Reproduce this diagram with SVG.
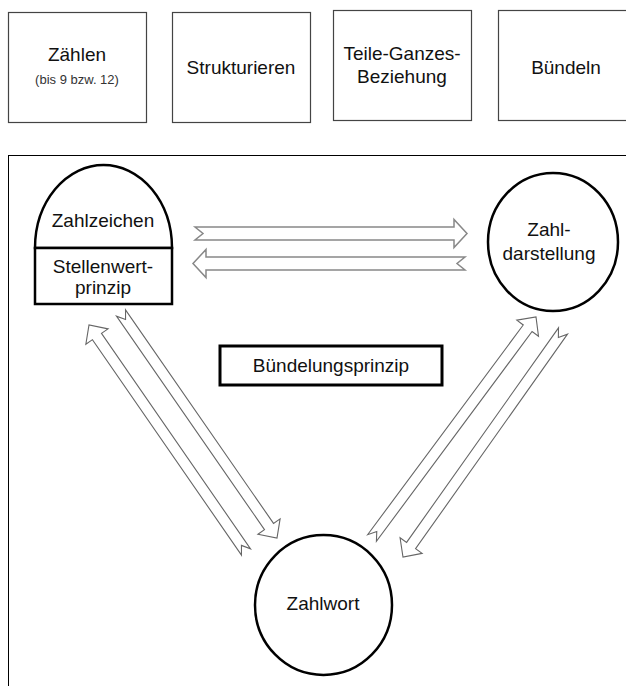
<svg xmlns="http://www.w3.org/2000/svg" width="626" height="686" viewBox="0 0 626 686">
<style>
text{font-family:"Liberation Sans",Arial,sans-serif;fill:#111;text-anchor:middle}
.t{font-size:19px}
.s{font-size:13px;fill:#333}
.box{fill:#fff;stroke:#444;stroke-width:1.2}
.node{fill:#fff;stroke:#000;stroke-width:2.5}
.arr{fill:#fff;stroke:#666;stroke-width:1.1;stroke-linejoin:miter}
.harr{fill:#fff;stroke:#888;stroke-width:1.5}
</style>
<rect width="626" height="686" fill="#fff"/>
<g id="frame"><rect x="8.5" y="155.5" width="640" height="560" fill="none" stroke="#000" stroke-width="1"/></g>
<g id="zaehlen"><rect class="box" x="8.5" y="12.5" width="138" height="110"/><text class="t" x="77" y="61">Zählen</text><text class="s" x="77" y="84">(bis 9 bzw. 12)</text></g>
<g id="strukturieren"><rect class="box" x="172.5" y="12.5" width="138" height="110"/><text class="t" x="241" y="74">Strukturieren</text></g>
<g id="teile"><rect class="box" x="333.5" y="10.5" width="138" height="110"/><text class="t" x="402" y="60">Teile-Ganzes-</text><text class="t" x="402" y="83">Beziehung</text></g>
<g id="buendeln"><rect class="box" x="498.5" y="10.5" width="138" height="110"/><text class="t" x="566" y="74">Bündeln</text></g>
<g id="connectors">
<polygon class="harr" transform="translate(195,233.5)" points="0,-6.5 259,-6.5 259,-14 272,0 259,14 259,6.5 0,6.5 8,0"/>
<polygon class="harr" transform="translate(465,263.5) rotate(180)" points="0,-6.5 259,-6.5 259,-14 272,0 259,14 259,6.5 0,6.5 8,0"/>
<polygon class="arr" transform="translate(121,313) rotate(55.27)" points="0,-5.5 259.8,-5.5 259.8,-13.5 273.8,0 259.8,13.5 259.8,5.5 0,5.5 8,0"/>
<polygon class="arr" transform="translate(246,552) rotate(235.33)" points="0,-5.5 262,-5.5 262,-13.5 276,0 262,13.5 262,5.5 0,5.5 8,0"/>
<polygon class="arr" transform="translate(372,538) rotate(-53.42)" points="0,-5.5 261.2,-5.5 261.2,-13.5 275.2,0 261.2,13.5 261.2,5.5 0,5.5 8,0"/>
<polygon class="arr" transform="translate(563,331) rotate(125.3)" points="0,-5.5 262.9,-5.5 262.9,-13.5 276.9,0 262.9,13.5 262.9,5.5 0,5.5 8,0"/>
</g>
<g id="zahlzeichen">
<path class="node" d="M35,248 A68.5,83 0 0 1 172,248 Z"/>
<rect class="node" x="35" y="248" width="137" height="56"/>
<text class="t" x="103" y="227">Zahlzeichen</text>
<text class="t" x="103" y="273">Stellenwert-</text>
<text class="t" x="103" y="294">prinzip</text>
</g>
<g id="zahldarstellung"><ellipse class="node" cx="553" cy="242" rx="65" ry="69"/><text class="t" x="549" y="236">Zahl-</text><text class="t" x="549" y="260">darstellung</text></g>
<g id="zahlwort"><ellipse class="node" cx="323.5" cy="605" rx="68.5" ry="70"/><text class="t" x="323" y="610">Zahlwort</text></g>
<g id="buendelungsprinzip"><rect x="220" y="346" width="222" height="39" fill="#fff" stroke="#000" stroke-width="3"/><text class="t" x="331" y="372">Bündelungsprinzip</text></g>
</svg>
